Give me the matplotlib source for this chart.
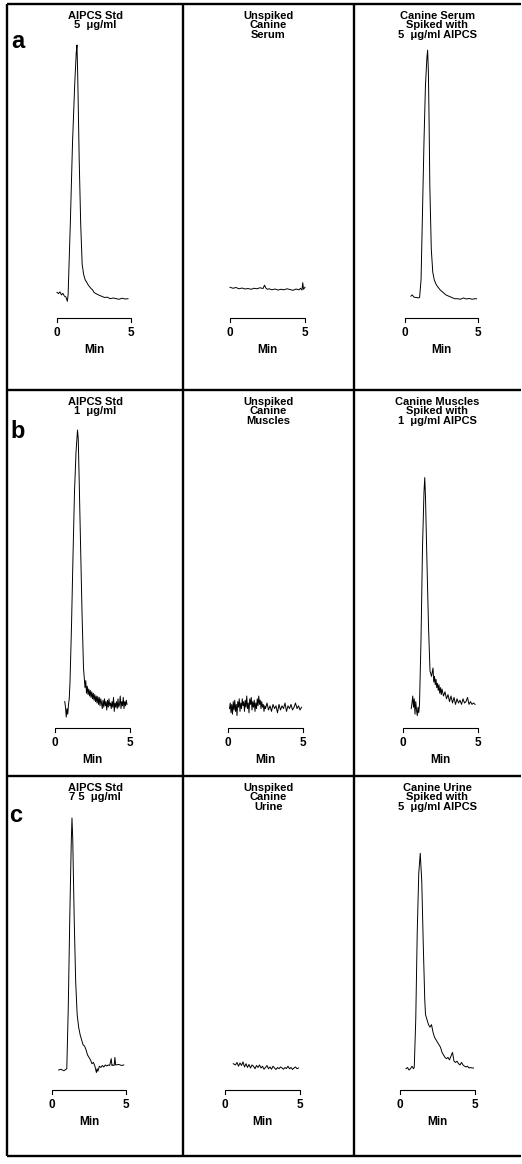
import matplotlib
matplotlib.use("Agg")
import matplotlib.pyplot as plt
import numpy as np

plt.rcParams['font.family'] = ['Liberation Sans', 'DejaVu Sans']

# ---------------- data (y = detector response, col-0 peak = 100) ----
row_letters = ["a", "b", "c"]

titles = [
    ["AlPCS Std\n5  μg/ml", "Unspiked\nCanine\nSerum", "Canine Serum\nSpiked with\n5  μg/ml AlPCS"],
    ["AlPCS Std\n1  μg/ml", "Unspiked\nCanine\nMuscles", "Canine Muscles\nSpiked with\n1  μg/ml AlPCS"],
    ["AlPCS Std\n7 5  μg/ml", "Unspiked\nCanine\nUrine", "Canine Urine\nSpiked with\n5  μg/ml AlPCS"],
]
axis_label = "Min"
tick_labels = ["0", "5"]

# Row a: serum
a0_t = [0.0, 0.1, 0.2, 0.3, 0.4, 0.5, 0.6, 0.7, 0.75, 0.9, 1.05, 1.2, 1.3, 1.35, 1.4, 1.5, 1.6, 1.7, 1.8,
        1.9, 2.0, 2.1, 2.2, 2.3, 2.4, 2.5, 2.6, 2.8, 3.0, 3.2, 3.4, 3.6, 3.8, 4.0, 4.2, 4.4, 4.6, 4.8]
a0_y = [3.0, 2.5, 3.2, 2.0, 2.6, 1.5, 1.2, -0.5, 2.0, 30, 62, 85, 97, 100, 88, 55, 30, 14, 10,
        8.0, 7.0, 6.0, 5.2, 4.5, 4.0, 3.0, 2.6, 2.0, 1.5, 1.0, 1.1, 0.5, 0.8, 0.5, 0.3, 0.7, 0.4, 0.5]

a1_t = [0.0, 0.2, 0.4, 0.6, 0.8, 1.0, 1.2, 1.4, 1.6, 1.8, 2.0, 2.2, 2.3, 2.4, 2.5, 2.6, 2.8, 3.0,
        3.2, 3.4, 3.6, 3.8, 4.0, 4.2, 4.4, 4.6, 4.7, 4.8, 4.85, 4.9, 5.0]
a1_y = [5.0, 4.6, 4.9, 4.4, 4.7, 4.3, 4.5, 4.2, 4.6, 4.4, 4.8, 4.5, 5.8, 4.6, 4.2, 4.4, 4.0, 4.3,
        3.9, 4.2, 4.0, 4.4, 4.1, 3.8, 4.3, 4.0, 4.6, 3.9, 6.8, 4.2, 5.0]

a2_t = [0.4, 0.5, 0.6, 0.7, 0.8, 0.9, 1.0, 1.1, 1.2, 1.3, 1.4, 1.5, 1.55, 1.6, 1.65, 1.7, 1.8, 1.9,
        2.0, 2.1, 2.2, 2.4, 2.6, 2.8, 3.0, 3.2, 3.4, 3.6, 3.8, 4.0, 4.2, 4.4, 4.6, 4.8, 4.9]
a2_y = [1.5, 2.0, 1.2, 1.0, 1.0, 0.8, 1.0, 8, 35, 62, 84, 95, 98, 90, 70, 45, 20, 11,
        8.0, 6.5, 5.5, 4.0, 3.0, 2.0, 1.5, 1.0, 0.5, 0.5, 0.3, 0.8, 0.4, 0.6, 0.3, 0.5, 0.5]

# Row b: muscles
b0_t = [0.65, 0.7, 0.75, 0.8, 0.85, 0.9, 0.95, 1.0, 1.1, 1.2, 1.3, 1.4, 1.5, 1.55, 1.6, 1.7, 1.8, 1.9,
        2.0, 2.05, 2.1, 2.15, 2.2, 2.25, 2.3, 2.35, 2.4, 2.45, 2.5, 2.55, 2.6, 2.65, 2.7, 2.75, 2.8,
        2.85, 2.9, 2.95, 3.0, 3.05, 3.1, 3.15, 3.2, 3.25, 3.3, 3.35, 3.4, 3.45, 3.5, 3.55, 3.6, 3.65,
        3.7, 3.75, 3.8, 3.85, 3.9, 3.95, 4.0, 4.05, 4.1, 4.15, 4.2, 4.25, 4.3, 4.35, 4.4, 4.45, 4.5,
        4.55, 4.6, 4.65, 4.7, 4.75, 4.8]
b0_y = [3.0, 1.0, -2.5, 0.5, -1.5, 2.0, 4.0, 10, 30, 55, 78, 92, 100, 97, 85, 60, 35, 15,
        8.0, 10.5, 6.0, 8.5, 5.5, 7.5, 5.0, 7.0, 4.5, 6.5, 4.0, 6.0, 3.5, 5.5, 3.0, 5.0, 2.5,
        4.8, 2.0, 4.5, 1.5, 4.0, 2.5, 0.5, 3.5, 1.0, 4.0, 1.5, 3.0, 0.0, 3.5, 1.0, 4.0, 1.5,
        2.5, 0.5, 3.0, 1.0, 4.5, -0.5, 2.5, 1.0, 3.0, 0.5, 4.0, 1.0, 2.0, 5.0, 0.5, 3.0, 1.5,
        4.5, 0.5, 3.0, 1.5, 3.5, 2.0]

b1_t = [0.1, 0.15, 0.2, 0.25, 0.3, 0.35, 0.4, 0.45, 0.5, 0.55, 0.6, 0.65, 0.7, 0.75, 0.8, 0.85, 0.9,
        0.95, 1.0, 1.05, 1.1, 1.15, 1.2, 1.25, 1.3, 1.35, 1.4, 1.45, 1.5, 1.55, 1.6, 1.65, 1.7, 1.75,
        1.8, 1.85, 1.9, 1.95, 2.0, 2.05, 2.1, 2.15, 2.2, 2.25, 2.3, 2.35, 2.4, 2.45, 2.5, 2.6, 2.7,
        2.8, 2.9, 3.0, 3.1, 3.2, 3.3, 3.4, 3.5, 3.6, 3.7, 3.8, 3.9, 4.0, 4.1, 4.2, 4.3, 4.4, 4.5,
        4.6, 4.7, 4.8, 4.9]
b1_y = [0.5, 2.5, -1.0, 2.0, -1.5, 3.0, 0.0, 3.5, -0.5, 2.0, -2.0, 3.0, 1.0, 4.0, -0.5, 2.5, 0.5,
        4.0, 1.5, 3.0, -0.5, 3.5, 1.0, 5.0, 0.5, 2.5, -1.0, 4.0, 2.0, 4.5, 0.0, 3.0, 1.0, 3.5,
        -0.5, 2.5, 0.5, 4.0, 1.5, 5.0, 2.0, 3.5, 0.5, 3.0, 1.0, 2.0, -0.5, 1.5, 0.5, 2.5, 0.0,
        1.5, -0.5, 2.0, 0.5, 1.5, -1.0, 2.0, 0.0, 1.5, 0.5, 2.5, -0.5, 1.5, 0.5, 2.0, 0.0,
        1.0, 2.5, 0.5, 1.5, 0.0, 1.0]

b2_t = [0.55, 0.6, 0.65, 0.7, 0.75, 0.8, 0.85, 0.9, 0.95, 1.0, 1.05, 1.1, 1.2, 1.3, 1.4, 1.45, 1.5,
        1.6, 1.7, 1.8, 1.9, 2.0, 2.05, 2.1, 2.15, 2.2, 2.25, 2.3, 2.35, 2.4, 2.45, 2.5, 2.55, 2.6,
        2.7, 2.8, 2.9, 3.0, 3.1, 3.2, 3.3, 3.4, 3.5, 3.6, 3.7, 3.8, 3.9, 4.0, 4.1, 4.2, 4.3, 4.4,
        4.5, 4.6, 4.7, 4.8]
b2_y = [0.5, 2.5, 5.0, 1.0, 4.0, -1.5, 3.0, 0.0, -2.0, 1.0, -1.0, 2.0, 25, 58, 78, 83, 76,
        52, 30, 14, 12, 15, 10, 12, 9.0, 11, 8.0, 9.5, 7.0, 9.0, 6.0, 8.0, 5.5, 7.5,
        5.0, 6.5, 4.0, 5.5, 3.0, 5.0, 2.5, 4.5, 2.0, 4.0, 2.5, 3.5, 2.0, 4.0, 2.5, 3.0, 4.5,
        2.0, 3.0, 2.0, 2.5, 2.0]

# Row c: urine
c0_t = [0.45, 0.6, 0.8, 1.0, 1.1, 1.2, 1.3, 1.35, 1.4, 1.5, 1.6, 1.7, 1.8, 1.9, 2.0, 2.1, 2.2, 2.3,
        2.4, 2.5, 2.6, 2.7, 2.8, 2.9, 3.0, 3.05, 3.1, 3.2, 3.3, 3.4, 3.5, 3.6, 3.7, 3.8, 3.9, 4.0,
        4.05, 4.1, 4.2, 4.25, 4.3, 4.5, 4.7, 4.85]
c0_y = [0.0, 0.3, -0.3, 0.5, 25, 60, 90, 100, 92, 60, 35, 22, 17, 14, 12, 10, 9.5, 8.0,
        6.0, 5.0, 4.0, 2.5, 3.0, 1.5, -1.0, 0.5, -0.5, 1.5, 1.0, 1.8, 1.2, 2.0, 1.6, 2.0, 1.8, 4.5,
        1.8, 2.0, 1.8, 5.0, 2.0, 2.2, 1.8, 2.0]

c1_t = [0.55, 0.7, 0.8, 0.9, 1.0, 1.1, 1.2, 1.3, 1.4, 1.5, 1.6, 1.7, 1.8, 1.9, 2.0, 2.1, 2.2, 2.3,
        2.4, 2.5, 2.6, 2.7, 2.8, 2.9, 3.0, 3.1, 3.2, 3.3, 3.4, 3.5, 3.6, 3.7, 3.8, 3.9, 4.0, 4.1,
        4.2, 4.3, 4.4, 4.5, 4.6, 4.7, 4.8, 4.9]
c1_y = [2.5, 2.0, 3.0, 1.5, 2.8, 1.8, 3.2, 1.2, 2.5, 1.0, 2.2, 0.8, 2.0, 1.5, 0.5, 1.8, 1.0, 2.0,
        0.8, 1.5, 0.3, 1.0, 1.8, 0.5, 1.2, 0.3, 1.5, 0.8, 0.2, 1.0, 0.5, 1.2, 0.8, 0.3, 1.0, 0.6,
        1.5, 0.5, 1.0, 0.2, 0.8, 1.2, 0.5, 0.8]

c2_t = [0.4, 0.5, 0.6, 0.7, 0.8, 0.9, 0.95, 1.05, 1.15, 1.25, 1.35, 1.45, 1.55, 1.65, 1.7, 1.8,
        1.9, 2.0, 2.1, 2.2, 2.3, 2.4, 2.5, 2.6, 2.7, 2.8, 2.9, 3.0, 3.1, 3.2, 3.3, 3.4, 3.5, 3.6,
        3.7, 3.8, 3.9, 4.0, 4.1, 4.2, 4.3, 4.4, 4.5, 4.6, 4.7, 4.8, 4.9]
c2_y = [0.5, 1.0, 0.0, 0.5, 1.5, 0.5, 1.0, 20, 55, 78, 86, 75, 50, 28, 22, 20,
        18, 17, 18, 15, 13, 12, 11, 10, 9.0, 7.0, 6.0, 5.0, 4.5, 5.0, 4.0, 5.5, 7.0, 3.5,
        3.0, 3.5, 2.5, 2.0, 3.0, 2.0, 1.5, 1.2, 1.5, 0.8, 1.0, 0.8, 0.8]

traces = [
    [(a0_t, a0_y), (a1_t, a1_y), (a2_t, a2_y)],
    [(b0_t, b0_y), (b1_t, b1_y), (b2_t, b2_y)],
    [(c0_t, c0_y), (c1_t, c1_y), (c2_t, c2_y)],
]

# ---------------- layout (pixels) ----------------
W, H = 522, 1164
col_x = [7, 183, 354, 521]
row_y = [4, 390, 776, 1156]
bar_x = [[(57, 131), (230, 305), (405, 478)],
         [(55, 130), (228, 303), (403, 478)],
         [(52, 126), (225, 300), (400, 475)]]
bar_y = [318, 728, 1090]
base_px = [300, 710, 1070]
ppu = [2.55, 2.8, 2.52]          # pixels per response unit
title_y = [11, 397, 783]
letter_xy = [(18, 42), (18, 432), (16, 816)]

fig = plt.figure(figsize=(W / 100, H / 100), dpi=100)
ov = fig.add_axes([0, 0, 1, 1])
ov.set_xlim(0, W)
ov.set_ylim(H, 0)
ov.axis("off")

blw = 1.7
for x in col_x[:3]:
    ov.plot([x, x], [row_y[0], row_y[-1]], color="black", lw=blw, solid_capstyle="butt")
for y in row_y:
    ov.plot([col_x[0], col_x[-1]], [y, y], color="black", lw=blw, solid_capstyle="butt")

for r in range(3):
    lx, ly = letter_xy[r]
    ov.text(lx, ly, row_letters[r], fontsize=17, fontweight="bold", ha="center", va="center")
    for c in range(3):
        x0, x1 = bar_x[r][c]
        cx = (col_x[c] + col_x[c + 1]) / 2
        ov.text(cx, title_y[r], titles[r][c], fontsize=8, fontweight="bold", ha="center", va="top",
                linespacing=0.92)
        # trace axes
        top_px = base_px[r] - 110 * ppu[r]
        ax = fig.add_axes([x0 / W, 1 - bar_y[r] / H, (x1 - x0) / W, (bar_y[r] - top_px) / H])
        ylo = -(bar_y[r] - base_px[r]) / ppu[r]
        ax.set_xlim(0, 5)
        ax.set_ylim(ylo, 110)
        ax.axis("off")
        t, y = traces[r][c]
        ax.plot(t, y, color="black", lw=0.7, clip_on=False)
        tick = 4 / ppu[r]
        ax.plot([0, 0, 5, 5], [ylo - tick, ylo, ylo, ylo - tick], color="black", lw=0.8, clip_on=False)
        ov.text(x0, bar_y[r] + 15, tick_labels[0], fontsize=8.5, fontweight="bold", ha="center", va="center")
        ov.text(x1, bar_y[r] + 15, tick_labels[1], fontsize=8.5, fontweight="bold", ha="center", va="center")
        ov.text((x0 + x1) / 2, bar_y[r] + 32, axis_label, fontsize=8.5, fontweight="bold",
                ha="center", va="center")

fig.savefig("out.png", dpi=100)
